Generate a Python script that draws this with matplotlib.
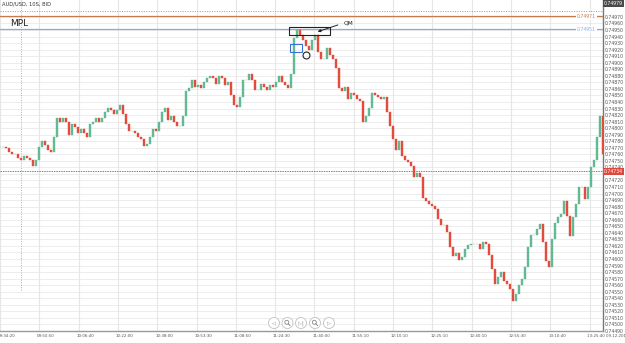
import numpy as np
import matplotlib
matplotlib.use("Agg")
import matplotlib.pyplot as plt
from matplotlib.patches import Rectangle, Circle
import matplotlib.transforms as mtransforms

# Schlusskurse der 10s-Kerzen
closes = [
    0.74771, 0.74771, 0.74769, 0.74764, 0.74760, 0.74760, 0.74755, 0.74752, 0.74757, 0.74755,
    0.74752, 0.74742, 0.74752, 0.74771, 0.74780, 0.74774, 0.74767, 0.74764, 0.74786, 0.74816,
    0.74809, 0.74815, 0.74809, 0.74790, 0.74806, 0.74801, 0.74793, 0.74798, 0.74793, 0.74786,
    0.74806, 0.74809, 0.74816, 0.74810, 0.74816, 0.74825, 0.74831, 0.74828, 0.74821, 0.74828,
    0.74835, 0.74821, 0.74806, 0.74795, 0.74795, 0.74792, 0.74787, 0.74783, 0.74772, 0.74775,
    0.74786, 0.74798, 0.74795, 0.74810, 0.74825, 0.74831, 0.74813, 0.74818, 0.74809, 0.74803,
    0.74804, 0.74818, 0.74856, 0.74862, 0.74874, 0.74863, 0.74866, 0.74862, 0.74870, 0.74877,
    0.74880, 0.74877, 0.74868, 0.74879, 0.74877, 0.74866, 0.74870, 0.74851, 0.74836, 0.74833,
    0.74847, 0.74873, 0.74874, 0.74883, 0.74874, 0.74859, 0.74859, 0.74868, 0.74863, 0.74859,
    0.74866, 0.74863, 0.74871, 0.74880, 0.74870, 0.74866, 0.74862, 0.74882, 0.74938, 0.74950,
    0.74943, 0.74935, 0.74926, 0.74920, 0.74935, 0.74943, 0.74917, 0.74905, 0.74905, 0.74923,
    0.74912, 0.74905, 0.74892, 0.74862, 0.74856, 0.74863, 0.74844, 0.74853, 0.74851, 0.74845,
    0.74841, 0.74810, 0.74818, 0.74831, 0.74853, 0.74851, 0.74847, 0.74844, 0.74848, 0.74825,
    0.74804, 0.74783, 0.74767, 0.74781, 0.74757, 0.74752, 0.74748, 0.74742, 0.74725, 0.74731,
    0.74726, 0.74694, 0.74688, 0.74684, 0.74681, 0.74676, 0.74661, 0.74652, 0.74652, 0.74641,
    0.74618, 0.74605, 0.74609, 0.74599, 0.74603, 0.74615, 0.74621, 0.74623, 0.74623, 0.74623,
    0.74615, 0.74626, 0.74623, 0.74606, 0.74585, 0.74562, 0.74573, 0.74580, 0.74567, 0.74562,
    0.74554, 0.74536, 0.74547, 0.74561, 0.74570, 0.74588, 0.74618, 0.74637, 0.74637, 0.74646,
    0.74653, 0.74626, 0.74597, 0.74588, 0.74631, 0.74655, 0.74664, 0.74669, 0.74688, 0.74666,
    0.74635, 0.74664, 0.74684, 0.74710, 0.74710, 0.74691, 0.74710, 0.74740, 0.74752, 0.74787,
    0.74818, 0.74760,
]
opens = [closes[0]] + closes[:-1]

zeit_labels = ["09:34:20", "09:50:50", "10:06:40", "10:22:00", "10:38:00", "10:53:30",
               "11:08:50", "11:24:30", "11:40:00", "11:55:10", "12:10:10", "12:25:10",
               "12:40:10", "12:55:30", "13:10:40", "13:25:40 09.12.2016"]
# 0.74730 liegt unter dem roten Preisschild
preis_ticks = [round(0.74490 + 0.0001 * i, 5) for i in range(49)]
preis_labels = [("%.5f" % p) if abs(p - 0.74730) > 1e-7 else "" for p in preis_ticks]

aktueller_preis = 0.74734
linie_braun = 0.74971
linie_blau = 0.74951
linie_grau = 0.74979
hoch_label = "0.74979"

GRUEN = "#62b994"
ROT = "#e34c3c"
FS = 3.3

fig = plt.figure(figsize=(6.25, 3.43), dpi=100)
ax = fig.add_axes([0, 12 / 343, 603 / 625, 331 / 343])

n = len(closes)
idx = np.arange(n)
o = np.array(opens)
c = np.array(closes)
farben = [GRUEN if c[i] >= o[i] else ROT for i in range(n)]
ax.bar(idx, c - o, bottom=o, width=0.4, color=farben, edgecolor=farben,
       linewidth=0.3, zorder=3)

ax.set_xlim(0, n - 1)
ax.set_ylim(0.74492, 0.749958)

# Gitter
for p in preis_ticks:
    ax.axhline(p, color="#ededed", lw=0.7, zorder=0)
schritt = 13.1
for k in range(len(zeit_labels)):
    ax.axvline(k * schritt, color="#e6e6e6", lw=0.8, zorder=0)

# Preisachse rechts
ax.yaxis.tick_right()
ax.set_yticks(preis_ticks)
ax.set_yticklabels(preis_labels)
ax.tick_params(axis="y", length=0, labelsize=FS, pad=1.2, labelcolor="#555555")
ax.set_xticks([])
for s in ["top", "left"]:
    ax.spines[s].set_visible(False)
ax.spines["right"].set_color("#777777")
ax.spines["right"].set_linewidth(1.0)
ax.spines["bottom"].set_color("#999999")
ax.spines["bottom"].set_linewidth(1.0)

# Zeitachse
trans = mtransforms.blended_transform_factory(ax.transData, ax.transAxes)
for k, lab in enumerate(zeit_labels):
    ax.text(k * schritt - 0.7, -0.01, lab, transform=trans, ha="left", va="top",
            fontsize=2.9, color="#555555", clip_on=False)

# horizontale Linien
ax.axhline(linie_grau, color="#999999", lw=0.7, ls=(0, (1, 1.5)), zorder=2)
ax.axhline(linie_braun, color="#c27c4e", lw=0.9, zorder=2)
ax.axhline(linie_blau, color="#8ea9e2", lw=0.9, zorder=2)
ax.axhline(aktueller_preis, color="#e8584c", lw=0.7, ls=(0, (1.5, 1)), zorder=2)
ax.text(195.5, linie_braun, "%.5f" % linie_braun, fontsize=FS, color="#c27c4e",
        ha="center", va="center", zorder=4,
        bbox=dict(boxstyle="square,pad=0.2", fc="white", ec="none"))
ax.text(195.5, linie_blau, "%.5f" % linie_blau, fontsize=FS, color="#8ea9e2",
        ha="center", va="center", zorder=4,
        bbox=dict(boxstyle="square,pad=0.2", fc="white", ec="none"))

ytrans = mtransforms.blended_transform_factory(ax.transAxes, ax.transData)
ax.text(1.002, aktueller_preis, "%.5f" % aktueller_preis, transform=ytrans, fontsize=FS,
        color="white", ha="left", va="center", clip_on=False, zorder=6,
        bbox=dict(boxstyle="square,pad=0.15", fc="#e0463c", ec="none"))
ax.text(1.002, 1 - 3.5 / 331, hoch_label, transform=ax.transAxes, fontsize=FS,
        color="white", ha="left", va="center", clip_on=False, zorder=6,
        bbox=dict(boxstyle="square,pad=0.2", fc="#4a4a4a", ec="none"))

# Titel / Markierungen
ax.text(0.003, 1 - 4.5 / 331, "AUD/USD, 10S, BID", transform=ax.transAxes,
        fontsize=3.7, color="#333333", ha="left", va="center")
ax.text(10 / 603, 1 - 23.5 / 331, "MPL", transform=ax.transAxes,
        fontsize=6.5, color="#222222", ha="left", va="center")
ax.axvline(7, ymin=(331 - 290) / 331, color="#b0b0b0", lw=0.7, ls=(0, (1, 1.5)), zorder=1)

ax.add_patch(Rectangle((96.3, 0.74943), 13.7, 0.00011, fill=False, ec="#222222", lw=0.8, zorder=5))
ax.add_patch(Rectangle((96.7, 0.74917), 4.0, 0.00012, fill=False, ec="#3b6fd8", lw=0.8, zorder=5))
ax.plot([102], [0.74911], marker="o", ms=5, mfc="none", mec="#222222", mew=0.8, zorder=5)
ax.annotate("", xy=(105, 0.74946), xytext=(113.5, 0.74959),
            arrowprops=dict(arrowstyle="-|>", color="#222222", lw=0.7, mutation_scale=4), zorder=5)
ax.text(114.5, 0.74960, "QM", fontsize=4.2, color="#222222", ha="left", va="center", zorder=5)

# Navigationsknoepfe
ov = fig.add_axes([0, 0, 1, 1])
ov.set_xlim(0, 625)
ov.set_ylim(343, 0)
ov.axis("off")
ov.patch.set_alpha(0)
knopf_x = [274, 287.5, 301, 315, 329]
symbole = ["◁", "", "▷|", "", "▷"]
for kx, sym in zip(knopf_x, symbole):
    ov.add_patch(Circle((kx, 323), 5.5, fc="white", ec="#c8c8c8", lw=0.7))
    if sym:
        ov.text(kx, 323, sym, fontsize=3.8, color="#888888", ha="center", va="center")
    else:
        ov.add_patch(Circle((kx - 0.7, 322.3), 2.0, fc="none", ec="#888888", lw=0.6))
        ov.plot([kx + 0.8, kx + 2.5], [323.8, 325.5], color="#888888", lw=0.7)

fig.savefig("out.png", dpi=100, facecolor="white")
